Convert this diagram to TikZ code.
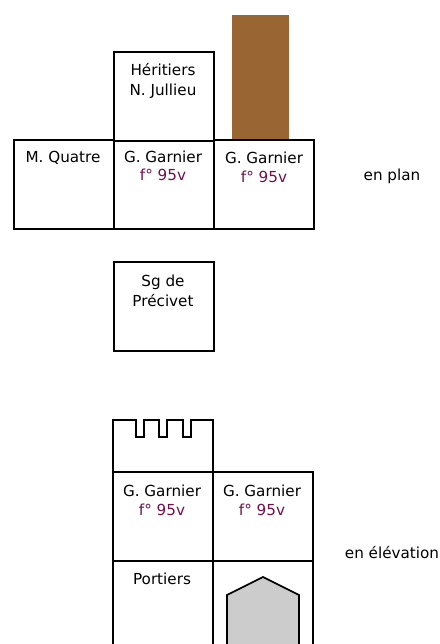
\documentclass[tikz,border=0pt]{standalone}
\usepackage{fontspec}
\setmainfont{DejaVu Sans}
\definecolor{brownfill}{RGB}{153,102,51}
\definecolor{folio}{RGB}{115,15,75}
\definecolor{housegrey}{RGB}{204,204,204}
\tikzset{
  x=1pt,y=-1pt,
  room/.style={draw=black,line width=1.6pt,fill=none},
  lab/.style={font=\fontsize{15.2}{19.5}\selectfont,text=black,align=center,inner sep=0pt,anchor=center},
  fol/.style={lab,text=folio},
}
\begin{document}
\begin{tikzpicture}
\useasboundingbox (0,0) rectangle (439,644);
\clip (0,0) rectangle (439,644);
% plan
\fill[brownfill] (232,15) rectangle (289,139);
\draw[room] (14,140) rectangle (114,229);
\draw[room] (114,52) rectangle (214,141);
\draw[room] (114,141) rectangle (214,229);
\draw[room] (214,140) rectangle (314,229);
\draw[room] (114,262) rectangle (214,351);
\node[lab] (quatre) at (63,158) {M. Quatre};
\node[lab] (heritiers) at (163,81) {Héritiers\\N. Jullieu};
\node[lab] (g1) at (163,157) {G. Garnier};
\node[fol] (f1) at (163,175) {f° 95v};
\node[lab] (g2) at (264,158) {G. Garnier};
\node[fol] (f2) at (264,177) {f° 95v};
\node[lab] (sg) at (163,291) {Sg de\\Précivet};
\node[lab] (plan) at (392,176) {en plan};
% elevation
\draw[room] (113,472) -- (113,420) -- (136,420) -- (136,437) -- (144,437) -- (144,420)
  -- (159,420) -- (159,437) -- (167,437) -- (167,420) -- (183,420) -- (183,437)
  -- (191,437) -- (191,420) -- (213,420) -- (213,472);
\draw[room] (113,472) rectangle (213,561);
\draw[room] (213,472) rectangle (313,561);
\draw[room] (113,561) rectangle (213,660);
\draw[room] (213,561) rectangle (313,660);
\draw[room,fill=housegrey] (227,660) -- (227,595) -- (263,577) -- (299,595) -- (299,660) -- cycle;
\node[lab] (g3) at (162,491) {G. Garnier};
\node[fol] (f3) at (162,510) {f° 95v};
\node[lab] (g4) at (262,491) {G. Garnier};
\node[fol] (f4) at (262,510) {f° 95v};
\node[lab] (port) at (162,579) {Portiers};
\node[lab] (elev) at (392,553) {en élévation};
\end{tikzpicture}
\end{document}
